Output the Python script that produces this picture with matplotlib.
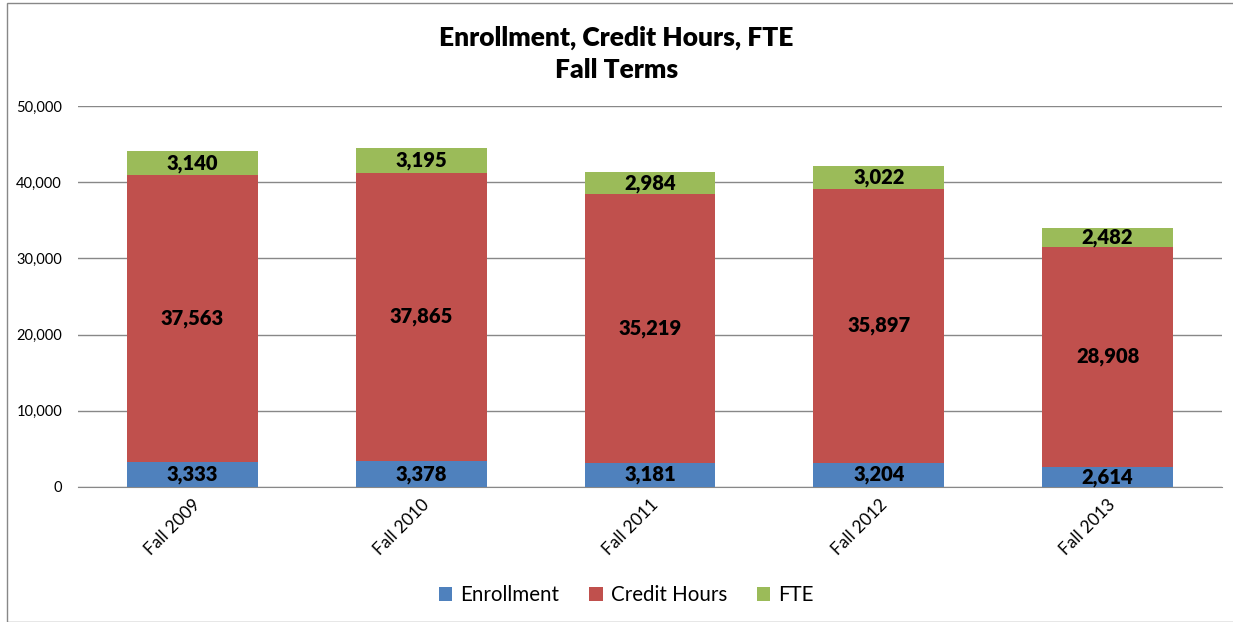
import matplotlib
matplotlib.use("Agg")
import matplotlib.pyplot as plt
from matplotlib.patches import Rectangle
from matplotlib.ticker import FuncFormatter

plt.rcParams['font.family'] = ['Lato', 'DejaVu Sans']

categories = ["Fall 2009", "Fall 2010", "Fall 2011", "Fall 2012", "Fall 2013"]
enrollment = [3333, 3378, 3181, 3204, 2614]
credit_hours = [37563, 37865, 35219, 35897, 28908]
fte = [3140, 3195, 2984, 3022, 2482]
series_names = ["Enrollment", "Credit Hours", "FTE"]
colors = ["#4F81BD", "#C0504D", "#9BBB59"]

fig = plt.figure(figsize=(12.33, 6.22), dpi=100)
fig.patches.append(Rectangle((7/1233, 0), 1, 1 - 3/622, transform=fig.transFigure,
                             fill=False, edgecolor="#888888", linewidth=1))
ax = fig.add_axes([78/1233, 1 - 487/622, (1222 - 78)/1233, (487 - 106)/622])

x = list(range(len(categories)))
w = 0.572
bottoms = [0] * len(categories)
for name, vals, c in zip(series_names, [enrollment, credit_hours, fte], colors):
    ax.bar(x, vals, w, bottom=bottoms, color=c, label=name, zorder=3)
    for xi, b, v in zip(x, bottoms, vals):
        ax.text(xi, b + v / 2, f"{v:,}", ha="center", va="center",
                fontsize=14.5, fontweight="heavy", color="black", zorder=4)
    bottoms = [b + v for b, v in zip(bottoms, vals)]

ax.set_xlim(-0.5, len(categories) - 0.5)
ax.set_ylim(0, 50000)
ax.set_yticks(range(0, 50001, 10000))
ax.yaxis.set_major_formatter(FuncFormatter(lambda v, p: f"{int(v):,}"))
ax.grid(axis="y", color="#888888", linewidth=1, zorder=0)
for s in ["left", "right", "top"]:
    ax.spines[s].set_visible(False)
ax.spines["bottom"].set_color("#888888")
ax.tick_params(axis="y", length=0, pad=11.5, labelsize=10.5)
ax.tick_params(axis="x", length=0, pad=7, labelsize=12.5)
ax.set_xticks(x)
ax.set_xticklabels(categories, rotation=45, ha="right", rotation_mode="anchor")

fig.text(0.5, 1 - 38/622, "Enrollment, Credit Hours, FTE", ha="center", va="center",
         fontsize=19, fontweight="heavy")
fig.text(0.5, 1 - 70/622, "Fall Terms", ha="center", va="center",
         fontsize=19, fontweight="heavy")

fig.legend(loc="center", bbox_to_anchor=(0.508, 1 - 595/622), ncol=3, frameon=False,
           fontsize=14.8, handlelength=0.65, handleheight=0.65, columnspacing=1.45, handletextpad=0.4)

fig.savefig("out.png", dpi=100)
